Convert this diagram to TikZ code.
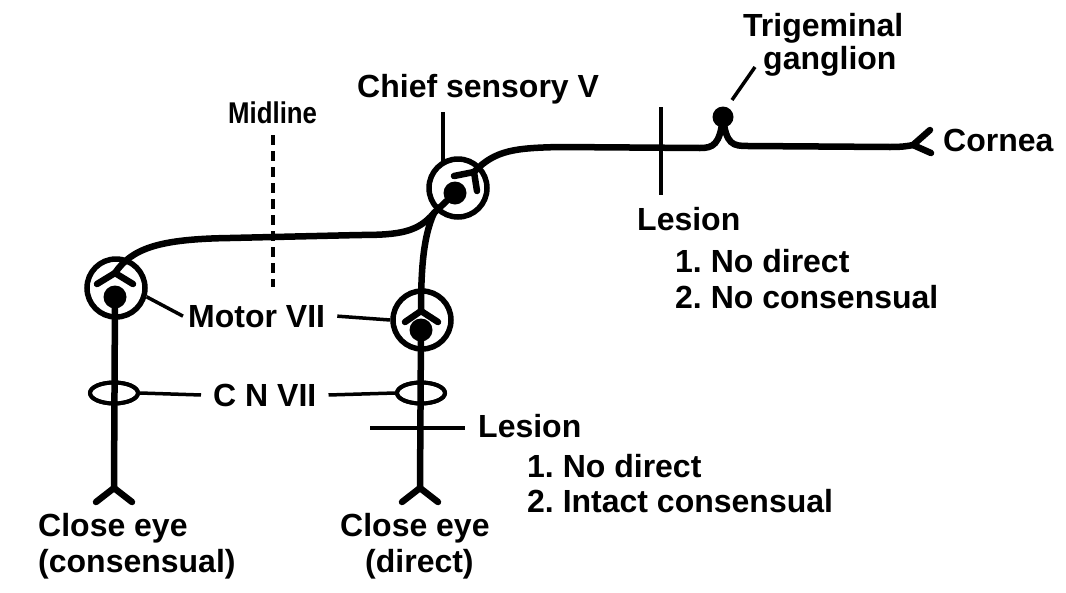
\documentclass[tikz,border=0pt]{standalone}
\usepackage{fontspec}
\setmainfont{Liberation Sans}
\usetikzlibrary{shapes.geometric}
\frenchspacing
\begin{document}
\begin{tikzpicture}[x=1pt,y=-1pt,
  axon/.style={line width=6.5pt, line cap=round, line join=round},
  thinline/.style={line width=3.5pt},
  nucleus/.style={circle, draw, line width=5.5pt, minimum size=58pt, inner sep=0pt},
  soma/.style={circle, fill, minimum size=23pt, inner sep=0pt},
  nring/.style={ellipse, draw, line width=4pt, minimum width=48pt, minimum height=21pt, inner sep=0pt},
  lbl/.style={font=\fontsize{32}{38}\selectfont\bfseries, inner sep=0pt, anchor=base west},
]
\useasboundingbox (0,0) rectangle (1066,592);

% nuclei and cell bodies
\node[nucleus] (mL) at (116,288) {};
\node[soma] (sL) at (115,297) {};
\node[nucleus] (mR) at (422,320) {};
\node[soma] (sR) at (421,330) {};
\node[nucleus] (cS) at (458,188) {};
\node[soma] (sS) at (455,193) {};
\node[soma, minimum size=21pt] (gang) at (723,117) {};
\node[nring] (rL) at (114,393) {};
\node[nring] (rR) at (421,393) {};

% key points
\coordinate (apL) at (115,273);
\coordinate (apLa) at (97,284);
\coordinate (apLb) at (133,284);
\coordinate (apR) at (421,311);
\coordinate (apRa) at (405,322);
\coordinate (apRb) at (438,322);
\coordinate (apS) at (474,172);
\coordinate (apSa) at (454,176);
\coordinate (apSb) at (477,191);
\coordinate (split) at (434,213);
\coordinate (forkL) at (114,488);
\coordinate (forkLa) at (96,502);
\coordinate (forkLb) at (132,502);
\coordinate (forkR) at (420,488);
\coordinate (forkRa) at (402,502);
\coordinate (forkRb) at (438,502);
\coordinate (cornTip) at (913,145);
\coordinate (cornA) at (930,130);
\coordinate (cornB) at (931,153);

% sensory axon
\draw[axon] (apS) .. controls (495,150) and (515,148) .. (560,147) -- (700,148)
  .. controls (713,148) and (720,145) .. (gang.center)
  .. controls (726,145) and (733,146) .. (748,146) -- (890,147)
  .. controls (903,147) and (908,146) .. (cornTip);
\draw[axon] (cornA) -- (cornTip) -- (cornB);
\draw[axon] (apSa) -- (apS) -- (apSb);

% interneuron axons
\draw[axon] (sS.center) -- (split);
\draw[axon] (split) .. controls (418,232) and (400,235) .. (360,235) -- (230,238)
  .. controls (160,239) and (132,248) .. (apL);
\draw[axon] (split) .. controls (424,235) and (421,265) .. (apR);
\draw[axon] (apLa) -- (apL) -- (apLb);
\draw[axon] (apRa) -- (apR) -- (apRb);

% motor axons
\draw[axon] (sL.center) -- (forkL);
\draw[axon] (forkLa) -- (forkL) -- (forkLb);
\draw[axon] (sR.center) -- (forkR);
\draw[axon] (forkRa) -- (forkR) -- (forkRb);
\node[nring] at (rL) {};
\node[nring] at (rR) {};

% midline
\coordinate (midTop) at (273,135);
\coordinate (midBot) at (273,287);
\draw[line width=3.5pt, dash pattern=on 10pt off 6pt] (midTop) -- (midBot);
\node[inner sep=0pt, anchor=base west, font=\fontsize{30}{34}\selectfont\bfseries] (tMid) at (228,123) {\scalebox{0.86}[1]{Midline}};

% lesions
\coordinate (lesTa) at (661,107);
\coordinate (lesTb) at (661,195);
\draw[thinline] (lesTa) -- (lesTb);
\coordinate (lesBa) at (370,428);
\coordinate (lesBb) at (465,428);
\draw[line width=4pt] (lesBa) -- (lesBb);

% labels
\node[lbl] (tTrig) at (743,36) {Trigeminal};
\node[lbl] (tGang) at (763,69) {ganglion};
\node[lbl] (tChief) at (357,97) {Chief sensory V};
\node[lbl] (tCorn) at (943,151) {Cornea};
\node[lbl] (tLes1) at (637,230) {Lesion};
\node[lbl] (tLes1a) at (675,272) {1. No direct};
\node[lbl] (tLes1b) at (675,308) {2. No consensual};
\node[lbl] (tMotor) at (188,327) {Motor VII};
\node[lbl] (tCN) at (213,406) {C N VII};
\node[lbl] (tLes2) at (478,437) {Lesion};
\node[lbl] (tLes2a) at (527,477) {1. No direct};
\node[lbl] (tLes2b) at (527,512) {2. Intact consensual};
\node[lbl] (tCEL) at (38,536) {Close eye};
\node[lbl] (tCEL2) at (38,572) {(consensual)};
\node[lbl] (tCER) at (340,536) {Close eye};
\node[lbl] (tCER2) at (365,572) {(direct)};

% leader lines
\coordinate (chiefTick) at (443,112);
\coordinate (chiefIn) at (443,163);
\draw[thinline] (chiefTick) -- (chiefIn);
\coordinate (gangA) at (732,100);
\coordinate (gangB) at (755,67);
\draw[thinline] (gangA) -- (gangB);
\draw[thinline] (mL.-16) -- ([xshift=-5pt]tMotor.west);
\draw[thinline] ([xshift=12pt]tMotor.east) -- (mR.west);
\draw[thinline] (rL.east) -- ([xshift=-12pt]tCN.west);
\draw[thinline] ([xshift=12pt]tCN.east) -- (rR.west);
\end{tikzpicture}
\end{document}
